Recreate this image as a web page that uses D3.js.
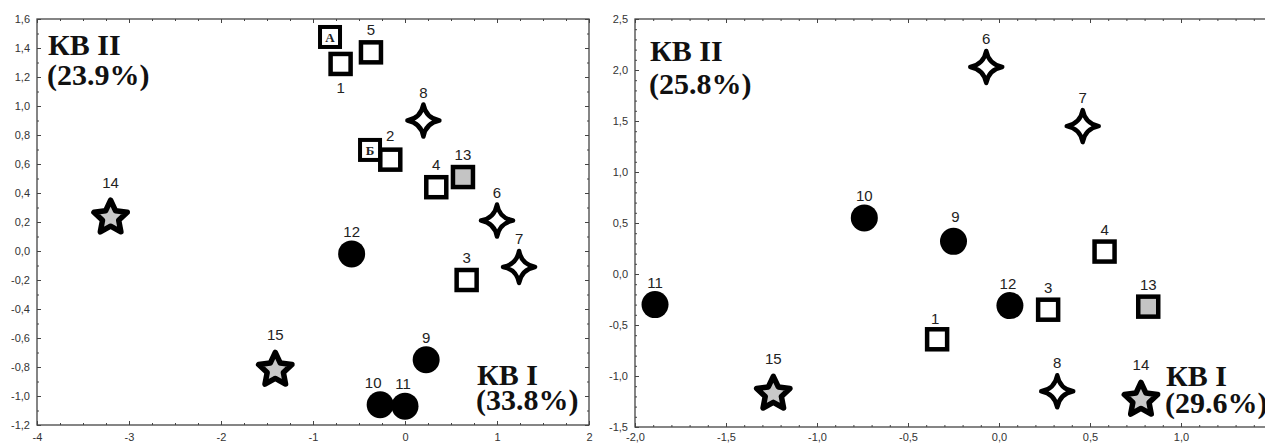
<!DOCTYPE html>
<html>
<head>
<meta charset="utf-8">
<script src="https://cdn.jsdelivr.net/npm/d3@7"></script>
<style>
  body { margin: 0; background: #fff; }
  svg { display: block; }
</style>
</head>
<body>
<div id="chart"></div>
<script>
// point numbers and marker kinds (1-5 open squares, 6-8 four-point stars, 9-12 dots, 13 grey square, 14-15 stars)
const pointIds = [1, 2, 3, 4, 5, 6, 7, 8, 9, 10, 11, 12, 13, 14, 15];
const markerKinds = ["square", "square", "square", "square", "square",
    "cross4", "cross4", "cross4",
    "circle", "circle", "circle", "circle",
    "squareGray", "star", "star"];

// left plot: KB I vs KB II
const leftX = [-0.70, -0.16, 0.67, 0.34, -0.37, 1.00, 1.24, 0.20, 0.23, -0.27, 0.00, -0.58, 0.63, -3.20, -1.41];
const leftY = [1.29, 0.63, -0.20, 0.44, 1.37, 0.21, -0.11, 0.90, -0.75, -1.06, -1.07, -0.02, 0.51, 0.24, -0.81];

// right plot (points 2 and 5 absent)
const rightX = [-0.34, null, 0.27, 0.58, null, -0.07, 0.46, 0.32, -0.25, -0.74, -1.89, 0.06, 0.82, 0.78, -1.24];
const rightY = [-0.64, null, -0.35, 0.22, null, 2.03, 1.45, -1.15, 0.32, 0.55, -0.30, -0.31, -0.32, -1.22, -1.16];

// tick values
const leftXTicks = [-4, -3, -2, -1, 0, 1, 2];
const leftYTicks = [-1.2, -1.0, -0.8, -0.6, -0.4, -0.2, 0.0, 0.2, 0.4, 0.6, 0.8, 1.0, 1.2, 1.4, 1.6];
const rightXTicks = [-2.0, -1.5, -1.0, -0.5, 0.0, 0.5, 1.0];
const rightYTicks = [-1.5, -1.0, -0.5, 0.0, 0.5, 1.0, 1.5, 2.0, 2.5];

// axis titles
const leftTitles = { y: ["КВ II", "(23.9%)"], x: ["КВ I", "(33.8%)"] };
const rightTitles = { y: ["КВ II", "(25.8%)"], x: ["КВ I", "(29.6%)"] };

// boxed letters on the left plot
const annotLabels = ["А", "Б"];
const annotX = [-0.815, -0.38];
const annotY = [1.476, 0.697];

const W = 1265, H = 444;
const svg = d3.select("#chart").append("svg")
    .attr("width", W)
    .attr("height", H)
    .style("font-family", "Arial, 'Liberation Sans', sans-serif");

const commaFmt = d => d3.format(".1f")(d).replace("−", "-").replace(".", ",");
const intFmt = d => String(d);

function starPath(R, r, n) {
    const pts = d3.range(n * 2).map(i => {
        const a = -Math.PI / 2 + i * Math.PI / n;
        const rr = i % 2 ? r : R;
        return [rr * Math.cos(a), rr * Math.sin(a)];
    });
    return "M" + pts.map(p => p.join(",")).join("L") + "Z";
}

function cross4Path(R, k) {
    return `M0,${-R} Q${k},${-k} ${R},0 Q${k},${k} 0,${R} Q${-k},${k} ${-R},0 Q${-k},${-k} 0,${-R}Z`;
}

function drawMarker(g, kind) {
    if (kind === "square" || kind === "squareGray") {
        g.append("rect")
            .attr("x", -10).attr("y", -10)
            .attr("width", 20).attr("height", 20)
            .attr("fill", kind === "squareGray" ? "#c4c4c4" : "#fff")
            .attr("stroke", "#000").attr("stroke-width", 4.5);
    } else if (kind === "circle") {
        g.append("circle").attr("r", 13.5).attr("fill", "#000");
    } else if (kind === "star") {
        g.append("path")
            .attr("d", starPath(17.5, 8.5, 5))
            .attr("transform", "translate(0,1.5)")
            .attr("fill", "#c8c8c8")
            .attr("stroke", "#000").attr("stroke-width", 5.5)
            .attr("stroke-linejoin", "round");
    } else if (kind === "cross4") {
        g.append("path")
            .attr("d", cross4Path(16, 2.5))
            .attr("fill", "#fff")
            .attr("stroke", "#000").attr("stroke-width", 4.5)
            .attr("stroke-linejoin", "round");
    }
}

const labelDy = { square: -17, squareGray: -17, circle: -17, cross4: -23, star: -28 };

function drawPanel(opt) {
    const x = d3.scaleLinear().domain(opt.xDomain).range([opt.left, opt.right]);
    const y = d3.scaleLinear().domain(opt.yDomain).range([opt.bottom, opt.top]);
    const g = svg.append("g");

    // frame
    g.append("rect")
        .attr("x", opt.left).attr("y", opt.top)
        .attr("width", opt.right - opt.left).attr("height", opt.bottom - opt.top)
        .attr("fill", "none").attr("stroke", "#444").attr("stroke-width", 1.3);

    const tickStyle = sel => {
        sel.select(".domain").remove();
        sel.selectAll(".tick line").attr("stroke", "#444");
        sel.selectAll(".tick text").attr("fill", "#333").style("font-size", "11px");
    };

    // bottom & left with labels
    g.append("g").attr("transform", `translate(0,${opt.bottom})`)
        .call(d3.axisBottom(x).tickValues(opt.xTicks).tickFormat(opt.xFmt).tickSize(-4).tickPadding(opt.xPad))
        .call(tickStyle);
    g.append("g").attr("transform", `translate(${opt.left},0)`)
        .call(d3.axisLeft(y).tickValues(opt.yTicks).tickFormat(commaFmt).tickSize(-4).tickPadding(7))
        .call(tickStyle);
    // top & right, ticks only
    g.append("g").attr("transform", `translate(0,${opt.top})`)
        .call(d3.axisTop(x).tickValues(opt.xTicks).tickFormat("").tickSize(-4))
        .call(tickStyle);
    g.append("g").attr("transform", `translate(${opt.right},0)`)
        .call(d3.axisRight(y).tickValues(opt.yTicks).tickFormat("").tickSize(-4))
        .call(tickStyle);

    // minor ticks
    const xMinor = d3.range(opt.xDomain[0], opt.xDomain[1] + 1e-9, opt.xMinor);
    const yMinor = d3.range(opt.yDomain[0], opt.yDomain[1] + 1e-9, opt.yMinor);
    [[d3.axisBottom(x).tickValues(xMinor), `translate(0,${opt.bottom})`],
     [d3.axisTop(x).tickValues(xMinor), `translate(0,${opt.top})`]].forEach(([ax, tr]) => {
        g.append("g").attr("transform", tr)
            .call(ax.tickFormat("").tickSize(-2)).call(tickStyle);
    });
    [[d3.axisLeft(y).tickValues(yMinor), `translate(${opt.left},0)`],
     [d3.axisRight(y).tickValues(yMinor), `translate(${opt.right},0)`]].forEach(([ax, tr]) => {
        g.append("g").attr("transform", tr)
            .call(ax.tickFormat("").tickSize(-2)).call(tickStyle);
    });

    // points
    const pts = pointIds.map((id, i) => ({
        id, kind: markerKinds[i], x: opt.xs[i], y: opt.ys[i]
    })).filter(d => d.x !== null);

    const mk = g.selectAll(".pt").data(pts).enter().append("g")
        .attr("class", "pt")
        .attr("transform", d => `translate(${x(d.x)},${y(d.y)})`);
    mk.each(function (d) { drawMarker(d3.select(this), d.kind); });
    mk.append("text")
        .attr("text-anchor", "middle")
        .attr("x", d => (opt.labelShift[d.id] || [0, 0])[0])
        .attr("y", d => labelDy[d.kind] + (opt.labelShift[d.id] || [0, 0])[1])
        .attr("fill", "#222")
        .style("font-size", "15px")
        .text(d => d.id);

    // titles
    const title = (lines, tx, ty, gap) => {
        const t = g.append("text")
            .attr("x", tx).attr("y", ty)
            .attr("fill", "#111")
            .style("font-family", "'Liberation Serif', 'Times New Roman', serif")
            .style("font-weight", "bold")
            .style("font-size", "30px");
        t.append("tspan").attr("x", tx).text(lines[0]);
        t.append("tspan").attr("x", tx - 1).attr("dy", gap).text(lines[1]);
    };
    title(opt.titles.y, opt.yTitlePos[0], opt.yTitlePos[1], opt.yTitlePos[2]);
    title(opt.titles.x, opt.xTitlePos[0], opt.xTitlePos[1], opt.xTitlePos[2]);

    return { x, y, g };
}

const leftPanel = drawPanel({
    left: 37, right: 589, top: 19, bottom: 425,
    xDomain: [-4, 2], yDomain: [-1.2, 1.6],
    xTicks: leftXTicks, yTicks: leftYTicks, xFmt: intFmt, xPad: 8,
    xMinor: 0.25, yMinor: 0.1,
    xs: leftX, ys: leftY,
    labelShift: { 1: [0, 46], 2: [0, -2], 10: [-7, 0], 11: [-2, 0] },
    titles: leftTitles,
    yTitlePos: [48, 55, 30],
    xTitlePos: [477, 385, 25]
});

const rightPanel = drawPanel({
    left: 635, right: 635 + 3.5 * 182, top: 19, bottom: 427,
    xDomain: [-2, 1.5], yDomain: [-1.5, 2.5],
    xTicks: rightXTicks, yTicks: rightYTicks, xFmt: commaFmt, xPad: 6,
    xMinor: 0.1, yMinor: 0.1,
    xs: rightX, ys: rightY,
    labelShift: { 1: [-2, 2], 9: [2, -2], 12: [-2, 0] },
    titles: rightTitles,
    yTitlePos: [650, 61, 33],
    xTitlePos: [1166, 386, 27]
});

// boxed letters
const ann = leftPanel.g.selectAll(".ann")
    .data(annotLabels.map((t, i) => ({ t, x: annotX[i], y: annotY[i] })))
    .enter().append("g")
    .attr("class", "ann")
    .attr("transform", d => `translate(${leftPanel.x(d.x)},${leftPanel.y(d.y)})`);
ann.append("rect")
    .attr("x", -10).attr("y", -10).attr("width", 20).attr("height", 20)
    .attr("fill", "#fff").attr("stroke", "#000").attr("stroke-width", 4);
ann.append("text")
    .attr("text-anchor", "middle").attr("y", 5)
    .style("font-family", "'Liberation Serif', serif")
    .style("font-weight", "bold").style("font-size", "13px")
    .attr("fill", "#222")
    .text(d => d.t);
</script>
</body>
</html>
